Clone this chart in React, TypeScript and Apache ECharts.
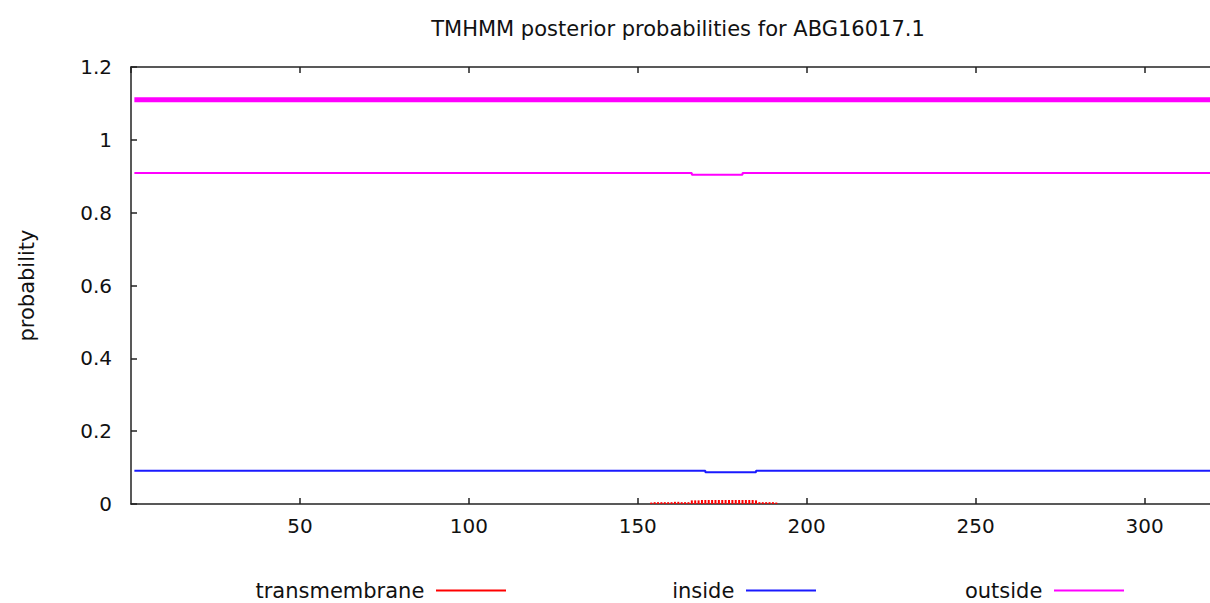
import React, { useEffect, useRef } from "react";
import * as echarts from "echarts";

const titleText = "TMHMM posterior probabilities for ABG16017.1";
const seriesNames = ["transmembrane", "inside", "outside"];
const yTicks = [0, 0.2, 0.4, 0.6, 0.8, 1, 1.2];
const xTicks = [50, 100, 150, 200, 250, 300];

// topology line (whole sequence outside)
const topologyOutside: [number, number][] = [
  [1, 1.11],
  [324, 1.11],
];
// posterior probability of outside
const outsideProb: [number, number][] = [
  [1, 0.909],
  [166, 0.909],
  [166, 0.904],
  [181, 0.904],
  [181, 0.909],
  [324, 0.909],
];
// posterior probability of inside
const insideProb: [number, number][] = [
  [1, 0.091],
  [170, 0.091],
  [170, 0.087],
  [185, 0.087],
  [185, 0.091],
  [324, 0.091],
];
// posterior probability of transmembrane (impulses)
const tmResidues = [
  154, 155, 156, 157, 158, 159, 160, 161, 162, 163, 164, 165, 166, 167, 168, 169, 170, 171, 172,
  173, 174, 175, 176, 177, 178, 179, 180, 181, 182, 183, 184, 185, 186, 187, 188, 189, 190, 191,
];
const tmValues = [
  0.004, 0.005, 0.005, 0.005, 0.005, 0.005, 0.005, 0.006, 0.006, 0.005, 0.005, 0.005, 0.01, 0.01,
  0.01, 0.011, 0.011, 0.011, 0.011, 0.011, 0.011, 0.011, 0.011, 0.011, 0.011, 0.011, 0.011, 0.011,
  0.011, 0.011, 0.011, 0.01, 0.005, 0.005, 0.005, 0.005, 0.005, 0.004,
];

const FONT = "DejaVu Sans";
const CW = 1232; // chart width; the plot runs past the visible 1210px edge
const CH = 603;

export default function App() {
  const ref = useRef<HTMLDivElement>(null);
  useEffect(() => {
    if (!ref.current) return;
    const chart = echarts.init(ref.current, undefined, { renderer: "svg" });
    const axisColor = "#222";
    const legendBase = {
      top: 580,
      padding: 0,
      align: "right",
      icon: "rect",
      itemWidth: 70,
      itemHeight: 2,
      formatter: (n: string) => n + " ",
      textStyle: { fontFamily: FONT, fontSize: 21, color: "#111" },
    };
    chart.setOption({
      animation: false,
      backgroundColor: "#ffffff",
      title: {
        text: titleText,
        left: 673,
        top: 13,
        textAlign: "center",
        textStyle: { fontFamily: FONT, fontSize: 21, fontWeight: "normal", color: "#111" },
      },
      legend: [
        { ...legendBase, data: [seriesNames[0]], right: CW - 506 },
        { ...legendBase, data: [seriesNames[1]], right: CW - 816 },
        { ...legendBase, data: [seriesNames[2]], right: CW - 1124 },
      ],
      grid: { left: 131, right: 0, top: 67, bottom: 99 },
      xAxis: [
        {
          type: "value",
          min: 0,
          max: 325,
          interval: 50,
          position: "bottom",
          splitLine: { show: false },
          axisLine: { show: true, onZero: false, lineStyle: { color: axisColor, width: 1.5 } },
          axisTick: { show: true, inside: true, length: 6, lineStyle: { color: axisColor, width: 1.5 } },
          axisLabel: {
            margin: 12,
            showMinLabel: false,
            fontFamily: FONT,
            fontSize: 20,
            color: "#111",
            formatter: (v: number) => (xTicks.includes(v) ? String(v) : ""),
          },
        },
        {
          type: "value",
          min: 0,
          max: 325,
          interval: 50,
          position: "top",
          splitLine: { show: false },
          axisLine: { show: true, onZero: false, lineStyle: { color: axisColor, width: 1.5 } },
          axisTick: { show: true, inside: true, length: 6, lineStyle: { color: axisColor, width: 1.5 } },
          axisLabel: { show: false },
        },
      ],
      yAxis: {
        type: "value",
        min: 0,
        max: 1.2,
        interval: 0.2,
        name: "probability",
        nameLocation: "middle",
        nameGap: 94,
        nameRotate: 90,
        nameTextStyle: { fontFamily: FONT, fontSize: 21, color: "#111" },
        splitLine: { show: false },
        axisLine: { show: true, onZero: false, lineStyle: { color: axisColor, width: 1.5 } },
        axisTick: { show: true, inside: true, length: 6, lineStyle: { color: axisColor, width: 1.5 } },
        axisLabel: {
          margin: 19,
          fontFamily: FONT,
          fontSize: 20,
          color: "#111",
          formatter: (v: number) => {
            const t = yTicks.find((y) => Math.abs(y - v) < 1e-9);
            return t === undefined ? "" : String(t);
          },
        },
      },
      series: [
        {
          name: seriesNames[0],
          type: "bar",
          xAxisIndex: 0,
          barWidth: 2,
          itemStyle: { color: "#ff0000" },
          data: tmResidues.map((r, i) => [r, tmValues[i]]),
        },
        {
          name: seriesNames[1],
          type: "line",
          xAxisIndex: 0,
          symbol: "none",
          lineStyle: { color: "#1a1aff", width: 2 },
          itemStyle: { color: "#1a1aff" },
          data: insideProb,
        },
        {
          name: seriesNames[2],
          type: "line",
          xAxisIndex: 0,
          symbol: "none",
          lineStyle: { color: "#ff00ff", width: 2 },
          itemStyle: { color: "#ff00ff" },
          data: outsideProb,
        },
        {
          name: "topology",
          type: "line",
          xAxisIndex: 0,
          symbol: "none",
          lineStyle: { color: "#ff00ff", width: 5 },
          data: topologyOutside,
        },
      ],
    });
    return () => chart.dispose();
  }, []);
  return (
    <div
      style={{
        position: "absolute",
        left: 0,
        top: 0,
        width: 1210,
        height: CH,
        overflow: "hidden",
        background: "#fff",
      }}
    >
      <div ref={ref} style={{ width: CW, height: CH }} />
    </div>
  );
}
